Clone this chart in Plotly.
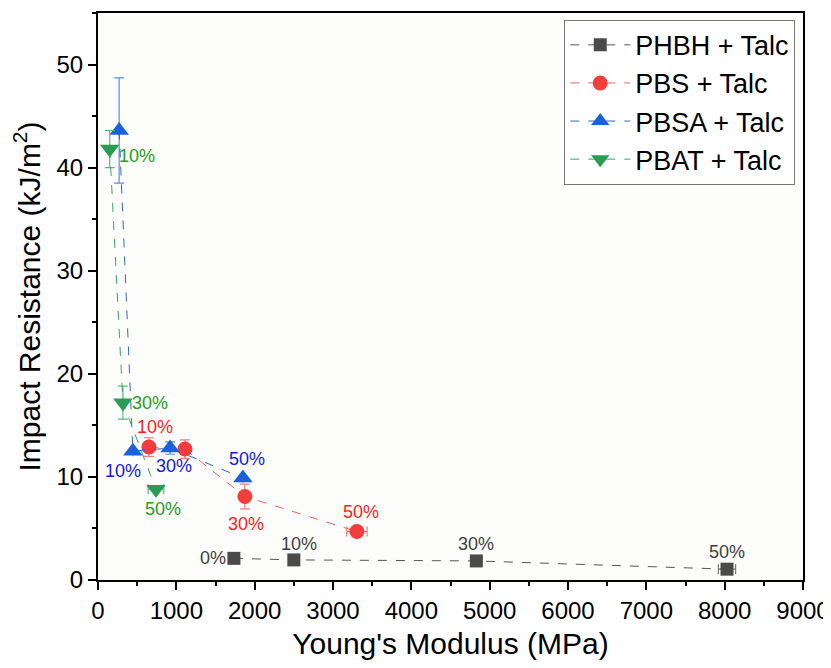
import plotly.graph_objects as go

# ---- data ----
phbh_x = [1735, 2500, 4830, 8030]
phbh_y = [2.1, 1.95, 1.85, 1.05]
phbh_ex = [0, 0, 0, 110]
phbh_ey = [0, 0, 0, 0]
phbh_lbl = ["0%", "10%", "30%", "50%"]

pbs_x = [650, 1110, 1875, 3305]
pbs_y = [12.9, 12.7, 8.1, 4.7]
pbs_ex = [0, 0, 0, 130]
pbs_ey = [0.9, 0.9, 1.2, 0]
pbs_lbl = ["10%", None, "30%", "50%"]

pbsa_x = [270, 445, 920, 1850]
pbsa_y = [43.6, 12.5, 12.8, 9.9]
pbsa_ex = [0, 0, 0, 0]
pbsa_ey = [5.1, 0, 0.6, 0]
pbsa_lbl = [None, "10%", "30%", "50%"]

pbat_x = [150, 318, 740]
pbat_y = [41.8, 17.2, 8.8]
pbat_ex = [0, 0, 100]
pbat_ey = [1.8, 1.6, 0]
pbat_lbl = ["10%", "30%", "50%"]

FONT = "Liberation Sans, Arial, sans-serif"

fig = go.Figure()

def add_series(name, x, y, ex, ey, sym, mcol, lcol, ecol, size):
    fig.add_trace(go.Scatter(
        x=x, y=y, name=name, mode="lines+markers",
        line=dict(color=lcol, width=1, dash="dash"),
        marker=dict(symbol=sym, color=mcol, size=size),
        error_x=dict(type="data", array=ex, color=ecol, thickness=1.2, width=5, visible=True),
        error_y=dict(type="data", array=ey, color=ecol, thickness=1.2, width=5, visible=True),
    ))

add_series("PHBH + Talc", phbh_x, phbh_y, phbh_ex, phbh_ey, "square", "#4a4a4a", "#555555", "#777777", 13)
add_series("PBS + Talc", pbs_x, pbs_y, pbs_ex, pbs_ey, "circle", "#f43c3c", "#f26060", "#f07a7a", 15)
add_series("PBSA + Talc", pbsa_x, pbsa_y, pbsa_ex, pbsa_ey, "triangle-up", "#1a62dc", "#2a68d8", "#5a8fe6", 17)
add_series("PBAT + Talc", pbat_x, pbat_y, pbat_ex, pbat_ey, "triangle-down", "#2a9c55", "#3aa562", "#5ab97a", 17)

# data labels as annotations anchored to the data points (pixel offsets are style)
def add_labels(x, y, lbl, offs, col):
    for xi, yi, t, (dx, dy) in zip(x, y, lbl, offs):
        if not t:
            continue
        fig.add_annotation(
            x=xi, y=yi, text=t, showarrow=False, xshift=dx, yshift=dy,
            xanchor="center", yanchor="middle",
            font=dict(family=FONT, size=18, color=col),
        )

add_labels(phbh_x, phbh_y, phbh_lbl, [(-21, 0), (5, 16), (0, 17), (0, 17)], "#404040")
add_labels(pbs_x, pbs_y, pbs_lbl, [(6, 20), (0, 0), (1, -27), (4, 20)], "#ff1a1a")
add_labels(pbsa_x, pbsa_y, pbsa_lbl, [(0, 0), (-10, -20), (4, -18), (4, 19)], "#1515e6")
add_labels(pbat_x, pbat_y, pbat_lbl, [(27, -7), (27, 0), (7, -20)], "#22a022")

axis_common = dict(
    showline=True, linecolor="black", linewidth=2, mirror=True,
    ticks="outside", ticklen=8, tickwidth=2, tickcolor="black",
    showgrid=False, zeroline=False, automargin=False,
    tickfont=dict(family=FONT, size=24, color="black"),
)

fig.update_xaxes(
    range=[0, 9000], dtick=1000, tick0=0,
    title=dict(text="Young's Modulus (MPa)", font=dict(family=FONT, size=30, color="black"), standoff=10),
    minor=dict(dtick=500, ticks="outside", ticklen=4, tickwidth=2, tickcolor="black"),
    **axis_common,
)
fig.update_yaxes(
    range=[0, 55], dtick=10, tick0=0,
    title=dict(text="Impact Resistance (kJ/m<sup>2</sup>)", font=dict(family=FONT, size=30, color="black"), standoff=10),
    minor=dict(dtick=5, ticks="outside", ticklen=4, tickwidth=2, tickcolor="black"),
    **axis_common,
)

fig.update_layout(
    width=823, height=660,
    margin=dict(l=90, r=28, t=5, b=88),
    plot_bgcolor="#fdfdfb", paper_bgcolor="white",
    font=dict(family=FONT),
    legend=dict(
        x=0.989, y=0.988, xanchor="right", yanchor="top",
        bordercolor="#777777", borderwidth=1, bgcolor="white",
        font=dict(family=FONT, size=27, color="black"),
        itemwidth=60, tracegroupgap=0,
    ),
)

fig.write_html("out.html")
